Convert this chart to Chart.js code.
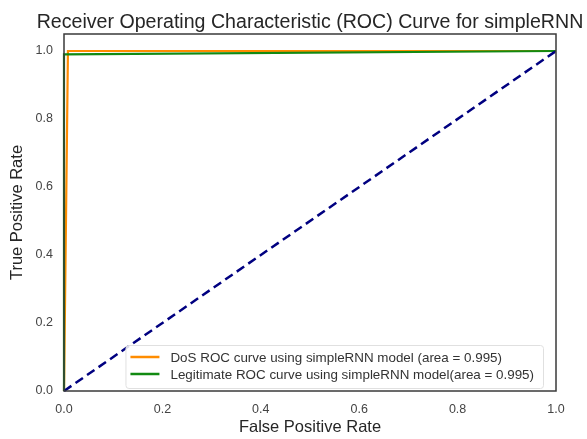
<!DOCTYPE html>
<html>
<head>
<meta charset="utf-8">
<script src="https://cdn.jsdelivr.net/npm/chart.js@4.4.1/dist/chart.umd.min.js"></script>
<style>
  html, body { margin: 0; padding: 0; background: #fff; }
  #wrap { width: 587px; height: 439px; }
</style>
</head>
<body>
<div id="wrap"><canvas id="roc"></canvas></div>
<script>
// ROC points (false positive rate / true positive rate)
const dosFpr = [0, 0.008, 1.0];
const dosTpr = [0, 1.0, 1.0];
const legitFpr = [0, 0, 1.0];
const legitTpr = [0, 0.99, 1.0];
const chanceLine = [0, 1];

const xTicks = [0, 0.2, 0.4, 0.6, 0.8, 1.0];
const yTicks = [0, 0.2, 0.4, 0.6, 0.8, 1.0];

const seriesLabels = [
    'DoS ROC curve using simpleRNN model (area = 0.995)',
    'Legitimate ROC curve using simpleRNN model(area = 0.995)'
];
const chartTitle = 'Receiver Operating Characteristic (ROC) Curve for simpleRNN';

const FONT = '"Liberation Sans", Arial, sans-serif';

function toPoints(xs, ys) {
    return xs.map((x, i) => ({ x: x, y: ys[i] }));
}

// title centred over the plot, frame, and legend box in lower right
const framePlugin = {
    id: 'frame',
    afterDatasetsDraw(chart) {
        const { ctx, chartArea: a } = chart;
        ctx.save();

        // legend
        ctx.font = '13.4px ' + FONT;
        const rowH = 17;
        const textW = Math.max(...seriesLabels.map(t => ctx.measureText(t).width));
        const boxW = 45 + textW + 9;
        const boxH = 43;
        const bx = a.right - 13 - boxW;
        const by = a.bottom - 3 - boxH;
        ctx.fillStyle = 'rgba(255,255,255,0.85)';
        ctx.strokeStyle = '#e0e0e0';
        ctx.lineWidth = 1;
        ctx.beginPath();
        ctx.roundRect(bx + 0.5, by + 0.5, boxW, boxH, 3);
        ctx.fill();
        ctx.stroke();
        chart.data.datasets.slice(0, 2).forEach((ds, i) => {
            const cy = by + 12 + rowH * i;
            ctx.strokeStyle = ds.borderColor;
            ctx.lineWidth = 2.5;
            ctx.beginPath();
            ctx.moveTo(bx + 5, cy);
            ctx.lineTo(bx + 34, cy);
            ctx.stroke();
            ctx.fillStyle = '#333';
            ctx.textBaseline = 'middle';
            ctx.fillText(ds.label, bx + 45, cy + 1);
        });

        // axes frame
        ctx.strokeStyle = '#3a3a3a';
        ctx.lineWidth = 1.5;
        ctx.strokeRect(a.left, a.top, a.right - a.left, a.bottom - a.top);

        // title
        ctx.font = '19.6px ' + FONT;
        ctx.fillStyle = '#262626';
        ctx.textAlign = 'center';
        ctx.textBaseline = 'alphabetic';
        ctx.fillText(chartTitle, (a.left + a.right) / 2, 28);
        ctx.restore();
    }
};

new Chart(document.getElementById('roc'), {
    type: 'line',
    data: {
        datasets: [
            {
                label: seriesLabels[0],
                data: toPoints(dosFpr, dosTpr),
                borderColor: '#ff8c00',
                borderWidth: 2.2,
                order: 2
            },
            {
                label: seriesLabels[1],
                data: toPoints(legitFpr, legitTpr),
                borderColor: '#128a12',
                borderWidth: 2.2,
                order: 1
            },
            {
                label: 'chance',
                data: toPoints(chanceLine, chanceLine),
                borderColor: '#000080',
                borderWidth: 2.5,
                borderDash: [9, 5],
                order: 0
            }
        ]
    },
    options: {
        responsive: true,
        maintainAspectRatio: false,
        animation: false,
        clip: false,
        elements: { point: { radius: 0 }, line: { tension: 0 } },
        layout: { padding: { left: 0, right: 31, top: 34, bottom: 0 } },
        plugins: {
            legend: { display: false },
            tooltip: { enabled: false },
            title: { display: false }
        },
        scales: {
            x: {
                type: 'linear',
                min: 0,
                max: 1,
                afterBuildTicks: s => { s.ticks = xTicks.map(v => ({ value: v })); },
                afterFit: s => { s.height = 48; },
                grid: { display: false, drawTicks: false },
                border: { display: false },
                ticks: {
                    color: '#444',
                    padding: 11,
                    font: { family: FONT, size: 12.5 },
                    callback: v => v.toFixed(1)
                },
                title: {
                    display: true,
                    text: 'False Positive Rate',
                    color: '#262626',
                    font: { family: FONT, size: 16.5 },
                    padding: { top: 2, bottom: 2 }
                }
            },
            y: {
                type: 'linear',
                min: 0,
                max: 1.05,
                afterBuildTicks: s => { s.ticks = yTicks.map(v => ({ value: v })); },
                afterFit: s => { s.width = 64; },
                grid: { display: false, drawTicks: false },
                border: { display: false },
                ticks: {
                    color: '#444',
                    padding: 11,
                    font: { family: FONT, size: 12.5 },
                    callback: v => v.toFixed(1)
                },
                title: {
                    display: true,
                    text: 'True Positive Rate',
                    color: '#262626',
                    font: { family: FONT, size: 16.5 },
                    padding: { top: 8, bottom: 0 }
                }
            }
        }
    },
    plugins: [framePlugin]
});
</script>
</body>
</html>
